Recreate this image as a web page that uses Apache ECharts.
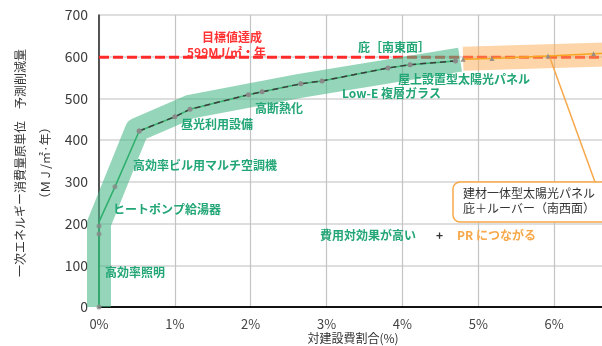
<!DOCTYPE html>
<html>
<head>
<meta charset="utf-8">
<script src="https://cdn.jsdelivr.net/npm/echarts@6/dist/echarts.min.js"></script>
<style>
  html, body { margin: 0; padding: 0; background: #fff; overflow: hidden; }
  #wrap { width: 602px; height: 346px; overflow: hidden; }
  #chart { width: 631px; height: 346px; }
</style>
</head>
<body>
<div id="wrap"><div id="chart"></div></div>
<script>
// Cumulative savings vs. share of construction cost (%), MJ/m²·year
const FONT = '"Noto Sans CJK JP", "Noto Sans", sans-serif';

const xTicks = [0, 1, 2, 3, 4, 5, 6, 7];
const yTicks = [0, 100, 200, 300, 400, 500, 600, 700];

// cost-effective measures (lower, solid green part)
const measuresLow = [[0, 0], [0, 175], [0, 194], [0, 204], [0.21, 288], [0.53, 422]];
const measuresLowMarked = [[0, 0], [0, 175], [0, 194], [0.21, 288], [0.53, 422]];
// cost-effective measures (upper part)
const measuresHigh = [[0.53, 422], [1.0, 456], [1.2, 474], [1.97, 509], [2.15, 516],
  [2.66, 535], [2.94, 542], [3.81, 573], [4.1, 581], [4.7, 590]];
// PR-oriented measures
const prMeasures = [[4.8, 594], [5.18, 596], [5.92, 602], [6.52, 607], [7.0, 610]];

// highlight bands behind the curves
const greenBand = [[0, 0], [0, 200], [0.5, 425], [1.2, 480], [2.65, 530], [4.76, 593]];
const orangeBand = [[4.8, 595], [7.0, 607]];

const targetValue = 599;
const targetLine = [[0, targetValue], [7, targetValue]];

const chart = echarts.init(document.getElementById('chart'), null, { renderer: 'canvas' });

const green = '#22a676';
const txt = (text, x, y, color) => ({
  type: 'text', x: x, y: y, z: 50,
  style: { text: text, fill: color, font: 'bold 12px ' + FONT,
    textVerticalAlign: 'middle', textAlign: 'left' }
});

chart.setOption({
  animation: false,
  backgroundColor: '#fff',
  grid: { left: 99, top: 15, bottom: 39, right: 1, show: true,
    outerBoundsMode: 'none', containLabel: false,
    borderColor: '#555', borderWidth: 1, backgroundColor: 'transparent' },
  xAxis: {
    type: 'value', min: xTicks[0], max: xTicks[xTicks.length - 1], interval: 1,
    axisLine: { show: true, onZero: false, lineStyle: { color: '#111', width: 2 } },
    axisTick: { show: false },
    axisLabel: { formatter: '{value}%', color: '#444', fontSize: 13, margin: 11, fontFamily: FONT },
    splitLine: { show: true, lineStyle: { color: '#c4c4c4', width: 1.2 } }
  },
  yAxis: {
    type: 'value', min: yTicks[0], max: yTicks[yTicks.length - 1], interval: 100,
    axisLine: { show: true, lineStyle: { color: '#333', width: 1.5 } },
    axisTick: { show: false },
    axisLabel: { color: '#3c3c3c', fontSize: 14, margin: 11, fontFamily: FONT },
    splitLine: { show: true, lineStyle: { color: '#dedede', width: 2 } }
  },
  series: [
    { // target value line
      type: 'line', data: targetLine, symbol: 'none', z: 1, clip: false,
      lineStyle: { color: '#ff2a2a', width: 3, type: [10, 4] }
    },
    { // green highlight band
      type: 'line', data: greenBand, symbol: 'none', z: 2, clip: false,
      lineStyle: { color: 'rgba(72,182,134,0.58)', width: 24, cap: 'butt', join: 'round' }
    },
    { // orange highlight band
      type: 'line', data: orangeBand, symbol: 'none', z: 2, clip: false,
      lineStyle: { color: 'rgba(251,171,81,0.5)', width: 24, cap: 'butt', join: 'round' }
    },
    {
      type: 'line', data: measuresLow, symbol: 'none', z: 3,
      lineStyle: { color: '#2eae6c', width: 1.5 }
    },
    {
      type: 'line', data: measuresHigh, symbol: 'none', z: 3,
      lineStyle: { color: '#3cb371', width: 1.5 }
    },
    {
      type: 'line', data: measuresHigh, symbol: 'circle', symbolSize: 5, z: 4,
      itemStyle: { color: '#8a8a8a' },
      lineStyle: { color: '#3d3d3d', width: 1.5, type: [6, 4] }
    },
    {
      type: 'scatter', data: measuresLowMarked, symbol: 'circle', symbolSize: 5, z: 4,
      itemStyle: { color: '#8a8a8a' }, clip: false
    },
    {
      type: 'line', data: prMeasures, symbol: 'triangle', symbolSize: 5, z: 4,
      showSymbol: true, itemStyle: { color: '#9a8f80' },
      lineStyle: { color: '#f7a623', width: 1.5 }
    }
  ],
  graphic: [
    // axis titles
    { type: 'text', x: 20, y: 163, rotation: Math.PI / 2, z: 50,
      style: { text: '一次エネルギー消費量原単位　予測削減量', fill: '#333', font: '12px ' + FONT,
        textAlign: 'center', textVerticalAlign: 'middle' } },
    { type: 'text', x: 45, y: 163, rotation: Math.PI / 2, z: 50,
      style: { text: '（ＭＪ/㎡·年）', fill: '#333', font: '12px ' + FONT,
        textAlign: 'center', textVerticalAlign: 'middle' } },
    { type: 'text', x: 353, y: 338, z: 50,
      style: { text: '対建設費割合(%)', fill: '#333', font: '12px ' + FONT,
        textAlign: 'center', textVerticalAlign: 'middle' } },

    // target annotation
    txt('目標値達成', 202, 37, '#ff3333'),
    txt('599MJ/㎡・年', 187, 52, '#ff3333'),

    // measure labels
    txt('高効率照明', 105, 272, green),
    txt('ヒートポンプ給湯器', 113, 209, green),
    txt('高効率ビル用マルチ空調機', 133, 165, green),
    txt('昼光利用設備', 181, 124, green),
    txt('高断熱化', 255, 108, green),
    txt('庇［南東面］', 358, 47, green),
    txt('屋上設置型太陽光パネル', 398, 79, green),
    txt('Low-E 複層ガラス', 342, 93, green),

    // summary
    txt('費用対効果が高い', 320, 235, green),
    txt('+', 436, 235, '#333'),
    txt('PR につながる', 457, 235, '#f7a84a'),

    // callout for PR measures
    { type: 'line', z: 40, shape: { x1: 550, y1: 58, x2: 595, y2: 182 },
      style: { stroke: '#f7a84a', lineWidth: 1.5 } },
    { type: 'rect', z: 45, shape: { x: 453, y: 182, width: 170, height: 40, r: 7 },
      style: { fill: '#fff', stroke: '#f7a84a', lineWidth: 1.5 } },
    { type: 'text', x: 463, y: 193, z: 50,
      style: { text: '建材一体型太陽光パネル', fill: '#333', font: '12px ' + FONT, textVerticalAlign: 'middle' } },
    { type: 'text', x: 463, y: 208, z: 50,
      style: { text: '庇＋ルーバー（南西面）', fill: '#333', font: '12px ' + FONT, textVerticalAlign: 'middle' } }
  ]
});
</script>
</body>
</html>
